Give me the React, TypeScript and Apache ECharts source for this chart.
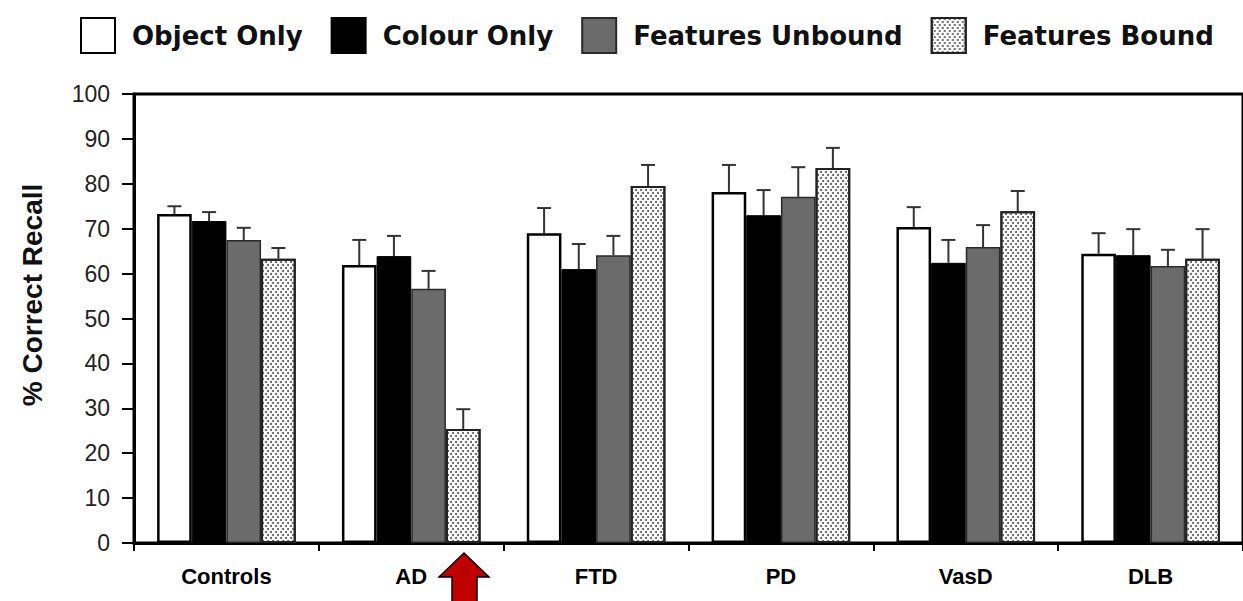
import React, { useEffect, useRef } from "react";
import * as echarts from "echarts";

const categories = ["Controls", "AD", "FTD", "PD", "VasD", "DLB"];
const seriesNames = ["Object Only", "Colour Only", "Features Unbound", "Features Bound"];

const objectOnly = [73.3, 61.9, 69.0, 78.2, 70.4, 64.4];
const colourOnly = [71.7, 63.9, 61.0, 73.0, 62.4, 64.1];
const featuresUnbound = [67.5, 56.6, 64.1, 77.1, 65.9, 61.7];
const featuresBound = [63.3, 25.4, 79.5, 83.5, 73.9, 63.3];

const objectOnlyErr = [1.7, 5.6, 5.6, 6.0, 4.4, 4.6];
const colourOnlyErr = [2.0, 4.5, 5.6, 5.6, 5.1, 5.8];
const featuresUnboundErr = [2.7, 4.0, 4.3, 6.6, 4.9, 3.6];
const featuresBoundErr = [2.4, 4.4, 4.7, 4.5, 4.5, 6.6];

const yMin = 0;
const yMax = 100;
const yInterval = 10;
const yAxisTitle = "% Correct Recall";

const values = [objectOnly, colourOnly, featuresUnbound, featuresBound];
const errors = [objectOnlyErr, colourOnlyErr, featuresUnboundErr, featuresBoundErr];

const dotDecal = {
  symbol: "circle",
  symbolSize: 1,
  color: "#555",
  dashArrayX: [
    [1.4, 2.6],
    [0, 2, 1.4, 0.6],
  ],
  dashArrayY: [1.4, 0.6],
};

const itemStyles: any[] = [
  { color: "#ffffff", borderColor: "#000", borderWidth: 2.5 },
  { color: "#000000", borderColor: "#000", borderWidth: 1 },
  { color: "#6b6b6b", borderColor: "#2a2a2a", borderWidth: 1.5 },
  { color: "#ffffff", borderColor: "#222", borderWidth: 2, decal: dotDecal },
];

const SANS = "'Liberation Sans', Arial, sans-serif";

export default function App() {
  const ref = useRef<HTMLDivElement>(null);

  useEffect(() => {
    if (!ref.current) return;
    const chart = echarts.init(ref.current, undefined, { renderer: "svg" });

    const barSeries = seriesNames.map((name, i) => ({
      name,
      type: "bar",
      data: values[i],
      barGap: "0%",
      barCategoryGap: "25%",
      itemStyle: itemStyles[i],
      z: 2,
    }));

    const errSeries = seriesNames.map((name, i) => ({
      name: "err-" + name,
      type: "custom",
      z: 3,
      silent: true,
      encode: { x: 0, y: 1 },
      data: values[i].map((v, k) => [k, v, errors[i][k]]),
      renderItem: (params: any, api: any) => {
        const cat = api.value(0);
        const v = api.value(1);
        const e = api.value(2);
        const base = api.coord([cat, v]);
        const top = api.coord([cat, v + e]);
        const catW = api.size([1, 0])[0];
        const barW = (catW * 0.75) / 4;
        const x = base[0] + (i - 1.5) * barW;
        const capHalf = 7;
        const style = { stroke: "#333", lineWidth: 2 };
        return {
          type: "group",
          children: [
            { type: "line", shape: { x1: x, y1: base[1], x2: x, y2: top[1] }, style },
            { type: "line", shape: { x1: x - capHalf, y1: top[1], x2: x + capHalf, y2: top[1] }, style },
          ],
        };
      },
    }));

    chart.setOption({
      animation: false,
      backgroundColor: "#ffffff",
      legend: {
        data: seriesNames,
        left: 75,
        top: 12,
        itemWidth: 34,
        itemHeight: 35,
        itemGap: 28,
        icon: "rect",
        textStyle: {
          fontFamily: "'DejaVu Sans', Verdana, sans-serif",
          fontWeight: "bold",
          fontSize: 26,
          color: "#111",
          padding: [0, 0, 0, 12],
        },
      },
      grid: {
        left: 134,
        right: -8,
        top: 94,
        bottom: 58,
        show: true,
        borderColor: "#000",
        borderWidth: 3,
        backgroundColor: "transparent",
      },
      xAxis: {
        type: "category",
        data: categories,
        axisLine: { lineStyle: { color: "#000", width: 3 } },
        axisTick: { show: true, length: 8, interval: 0, lineStyle: { color: "#000", width: 2 } },
        axisLabel: {
          fontFamily: SANS,
          fontWeight: "bold",
          fontSize: 22,
          color: "#000",
          margin: 22,
          interval: 0,
        },
        splitLine: { show: false },
      },
      yAxis: {
        type: "value",
        min: yMin,
        max: yMax,
        interval: yInterval,
        axisLine: { show: true, lineStyle: { color: "#000", width: 3 } },
        axisTick: { show: true, length: 12, lineStyle: { color: "#000", width: 2 } },
        axisLabel: { fontFamily: SANS, fontSize: 23, color: "#222", margin: 24 },
        splitLine: { show: false },
      },
      graphic: [
        {
          type: "text",
          x: 32,
          y: 295,
          rotation: Math.PI / 2,
          style: {
            text: yAxisTitle,
            font: "bold 28px " + SANS,
            fill: "#111",
            textAlign: "center",
            textVerticalAlign: "middle",
          },
        },
        {
          type: "polygon",
          z: 10,
          shape: {
            points: [
              [464, 553],
              [489, 577],
              [477, 577],
              [477, 605],
              [452, 605],
              [452, 577],
              [439, 577],
            ],
          },
          style: { fill: "#c00000", stroke: "#000", lineWidth: 1.5 },
        },
      ],
      series: [...barSeries, ...errSeries],
    });

    return () => chart.dispose();
  }, []);

  return (
    <div
      ref={ref}
      style={{ position: "absolute", left: 0, top: 0, width: 1243, height: 601, overflow: "hidden" }}
    />
  );
}
